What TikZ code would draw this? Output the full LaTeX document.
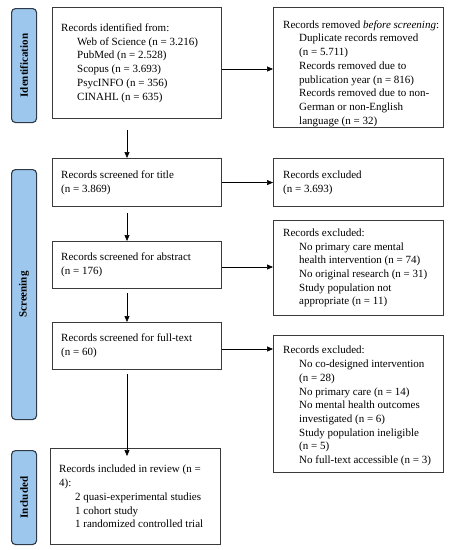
\documentclass[tikz,border=0pt]{standalone}
\usepackage{fontspec}
\setmainfont{Liberation Serif}
\usetikzlibrary{arrows.meta}
\definecolor{boxline}{HTML}{3A3A3A}
\definecolor{phaseline}{HTML}{2E3A48}
\definecolor{phasefill}{HTML}{9DC7EC}
\tikzset{
  box/.style={draw=boxline, line width=1.1pt, fill=white, inner sep=0pt, anchor=north west},
  txt/.style={align=left, inner sep=0pt, anchor=west, font=\fontsize{11}{13.7}\selectfont},
  phase/.style={draw=phaseline, line width=1.1pt, fill=phasefill, rounded corners=4pt,
    anchor=north west, inner sep=0pt},
  phasetxt/.style={rotate=90, font=\bfseries\fontsize{11}{13}\selectfont},
  arr/.style={-{Triangle[length=6pt,width=5pt]}, line width=0.6pt, black},
}
\newcommand{\ind}{\hspace*{16pt}}
\begin{document}
\begin{tikzpicture}[x=1pt,y=-1pt]
\useasboundingbox (0,0) rectangle (451,550);
% phase labels
\node[phase, minimum width=25pt, minimum height=114pt] (pid) at (11,8) {};
\node[phasetxt] (tid) at (pid.center) {Identification};
\node[phase, minimum width=25pt, minimum height=250pt] (psc) at (11,169) {};
\node[phasetxt] (tsc) at (psc.center) {Screening};
\node[phase, minimum width=25pt, minimum height=94pt] (pin) at (11,450) {};
\node[phasetxt] (tin) at (pin.center) {Included};
% left boxes
\node[box, minimum width=169pt, minimum height=111pt] (b1) at (52,7) {};
\node[txt] (t1) at ([xshift=9pt]b1.west) {Records identified from:\\
  \ind Web of Science (n = 3.216)\\
  \ind PubMed (n = 2.528)\\
  \ind Scopus (n = 3.693)\\
  \ind PsycINFO (n = 356)\\
  \ind CINAHL (n = 635)};
\node[box, minimum width=169pt, minimum height=48pt] (b2) at (52,158) {};
\node[txt] (t2) at ([xshift=9pt]b2.west) {Records screened for title\\(n = 3.869)};
\node[box, minimum width=169pt, minimum height=47pt] (b3) at (52,241) {};
\node[txt] (t3) at ([xshift=9pt]b3.west) {Records screened for abstract\\(n = 176)};
\node[box, minimum width=169pt, minimum height=47pt] (b4) at (52,322) {};
\node[txt] (t4) at ([xshift=9pt]b4.west) {Records screened for full-text\\(n = 60)};
\node[box, minimum width=170pt, minimum height=96pt] (b5) at (50,448) {};
\node[txt] (t5) at ([xshift=9pt]b5.west) {Records included in review (n =\\
  4):\\
  \ind 2 quasi-experimental studies\\
  \ind 1 cohort study\\
  \ind 1 randomized controlled trial};
% right boxes
\node[box, minimum width=170pt, minimum height=120pt] (r1) at (273,7) {};
\node[txt] (s1) at ([xshift=10pt,yshift=-6pt]r1.west) {Records removed \textit{before screening}:\\
  \ind Duplicate records removed\\
  \ind (n = 5.711)\\
  \ind Records removed due to\\
  \ind publication year (n = 816)\\
  \ind Records removed due to non-\\
  \ind German or non-English\\
  \ind language (n = 32)};
\node[box, minimum width=170pt, minimum height=48pt] (r2) at (273,158) {};
\node[txt] (s2) at ([xshift=10pt]r2.west) {Records excluded\\(n = 3.693)};
\node[box, minimum width=170pt, minimum height=95pt] (r3) at (273,220) {};
\node[txt] (s3) at ([xshift=10pt]r3.west) {Records excluded:\\
  \ind No primary care mental\\
  \ind health intervention (n = 74)\\
  \ind No original research (n = 31)\\
  \ind Study population not\\
  \ind appropriate (n = 11)};
\node[box, minimum width=170pt, minimum height=137pt] (r4) at (273,335) {};
\node[txt] (s4) at ([xshift=10pt,yshift=-2pt]r4.west) {Records excluded:\\
  \ind No co-designed intervention\\
  \ind (n = 28)\\
  \ind No primary care (n = 14)\\
  \ind No mental health outcomes\\
  \ind investigated (n = 6)\\
  \ind Study population ineligible\\
  \ind (n = 5)\\
  \ind No full-text accessible (n = 3)};
% arrows
\coordinate (a1s) at (127,130);
\draw[arr] (a1s) -- (b2.north -| a1s);
\draw[arr] ([yshift=-6pt]b2.south -| a1s) -- (b3.north -| a1s);
\draw[arr] ([yshift=-4pt]b3.south -| a1s) -- (b4.north -| a1s);
\draw[arr] ([yshift=-4pt]b4.south -| a1s) -- ([yshift=-8pt]b5.north -| a1s);
\draw[arr] (b1.east |- 0,69) -- (r1.west |- 0,69);
\draw[arr] (b2.east) -- (r2.west);
\draw[arr] (b3.east |- 0,267) -- (r3.west |- 0,267);
\draw[arr] (b4.east |- 0,349) -- (r4.west |- 0,349);
\end{tikzpicture}
\end{document}
